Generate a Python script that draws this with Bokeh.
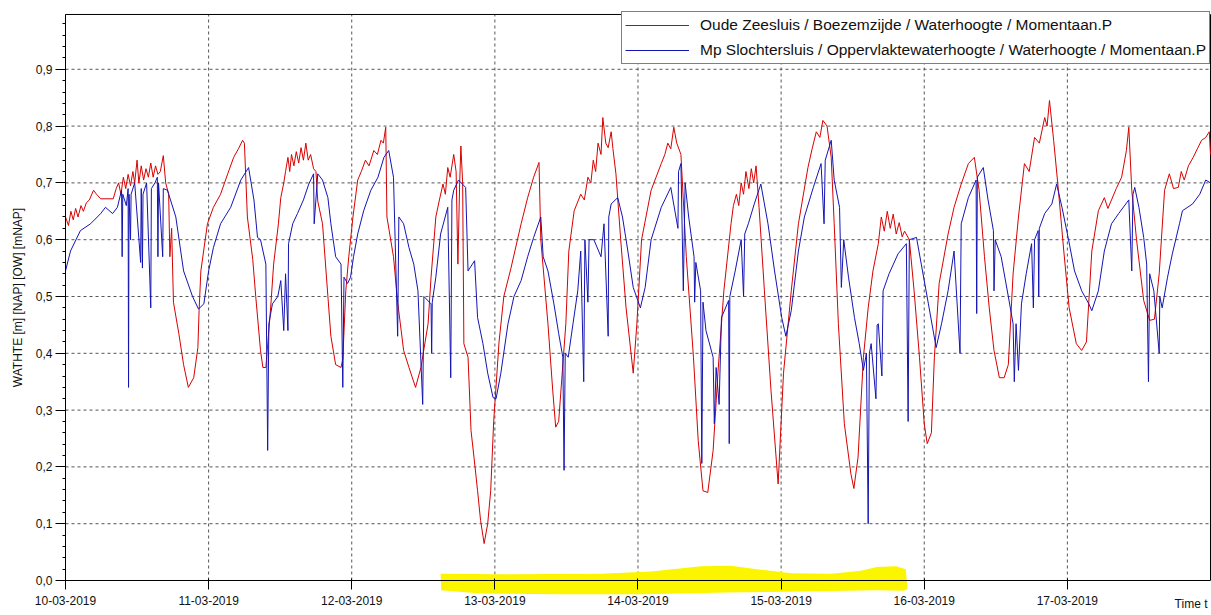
from bokeh.plotting import figure
from bokeh.models import (FixedTicker, CustomJSTickFormatter, Legend, LegendItem,
                          Label, PolyAnnotation)
from bokeh.embed import file_html
from bokeh.resources import INLINE

# ---------------- data ----------------
day_hours = [0, 24, 48, 72, 96, 120, 144, 168]
day_labels = ["10-03-2019", "11-03-2019", "12-03-2019", "13-03-2019",
              "14-03-2019", "15-03-2019", "16-03-2019", "17-03-2019"]
y_ticks = [0.0, 0.1, 0.2, 0.3, 0.4, 0.5, 0.6, 0.7, 0.8, 0.9]
x_end = 192          # 18-03-2019 00:00
y_top = 0.9965

red_name = "Oude Zeesluis / Boezemzijde / Waterhoogte / Momentaan.P"
blue_name = "Mp Slochtersluis / Oppervlaktewaterhoogte / Waterhoogte / Momentaan.P"

# hours since 10-03-2019 00:00, water level [m NAP]
red_h = [0.0, 0.5, 0.9, 1.3, 1.7, 2.1, 2.6, 3.0, 3.5, 4.0, 4.7, 5.2, 5.9, 8.0, 8.5, 8.9,
         9.3, 9.7, 10.1, 10.5, 10.9, 11.3, 11.6, 12.0, 12.3, 12.7, 13.1, 13.5, 13.9, 14.3,
         14.7, 15.1, 15.5, 15.9, 16.4, 16.8, 17.3, 17.5, 17.8, 18.1, 19.0, 19.8, 20.6,
         21.5, 22.2, 22.4, 22.7, 23.8, 24.8, 26.0, 27.2, 28.2, 29.0, 29.7, 30.0, 30.5,
         31.4, 31.9, 32.7, 33.1, 33.6, 34.4, 34.9, 35.7, 36.1, 36.6, 36.9, 37.3, 37.6,
         37.9, 38.3, 38.7, 39.1, 39.5, 39.9, 40.3, 40.7, 41.1, 41.6, 42.0, 42.3, 43.1,
         44.0, 44.5, 45.3, 46.2, 46.5, 47.0, 47.5, 48.2, 49.0, 49.6, 50.3, 50.9, 51.7,
         52.3, 52.9, 53.3, 53.7, 53.9, 55.0, 55.7, 56.7, 57.6, 58.7, 59.6, 60.8, 61.3,
         62.1, 62.7, 63.3, 63.7, 64.1, 64.5, 65.1, 65.5, 65.8, 66.1, 66.3, 66.6, 66.8,
         67.5, 68.0, 68.5, 69.1, 69.6, 70.2, 70.8, 71.3, 71.8, 72.7, 73.5, 74.7, 76.4,
         77.5, 78.5, 79.4, 79.7, 80.9, 81.7, 82.2, 82.7, 83.9, 84.4, 85.3, 86.4, 87.0,
         87.6, 88.1, 88.5, 88.9, 89.3, 89.8, 90.1, 90.6, 91.0, 91.5, 91.8, 92.3, 93.1,
         94.0, 95.2, 95.8, 96.6, 98.2, 99.9, 100.5, 101.0, 101.5, 102.0, 102.5, 103.2,
         104.1, 105.3, 106.1, 106.9, 107.7, 108.6, 109.4, 110.4, 111.6, 112.0, 112.5,
         112.9, 113.3, 113.7, 114.1, 114.6, 115.0, 115.4, 115.8, 116.3, 117.2, 118.3,
         119.5, 120.4, 121.7, 122.9, 124.5, 125.2, 125.9, 126.5, 127.0, 127.7, 128.4,
         128.9, 129.6, 130.6, 131.7, 132.2, 132.9, 133.8, 134.6, 135.4, 136.3, 136.8,
         137.3, 137.8, 138.3, 138.8, 139.3, 139.8, 140.3, 140.7, 141.5, 142.3, 143.2,
         144.0, 144.5, 145.2, 145.7, 146.5, 148.0, 149.0, 150.2, 151.4, 152.4, 153.2,
         154.1, 154.9, 155.7, 156.6, 157.4, 158.1, 158.9, 159.8, 160.8, 161.6, 162.5,
         163.3, 164.2, 164.6, 165.0, 165.7, 166.5, 167.4, 168.3, 169.5, 170.4, 171.2,
         172.1, 173.2, 174.2, 174.8, 175.4, 176.2, 177.1, 177.9, 178.3, 178.8, 179.6,
         180.8, 181.8, 182.6, 183.4, 184.3, 185.1, 185.8, 186.6, 187.1, 187.6, 188.3,
         189.1, 189.8, 190.5, 191.2, 191.8, 192.0]
red_v = [0.64, 0.625, 0.65, 0.635, 0.655, 0.64, 0.66, 0.65, 0.665, 0.67, 0.687, 0.68, 0.672,
         0.672, 0.69, 0.70, 0.68, 0.71, 0.69, 0.715, 0.695, 0.72, 0.70, 0.74, 0.70, 0.73,
         0.705, 0.725, 0.71, 0.735, 0.71, 0.73, 0.715, 0.72, 0.748, 0.70, 0.68, 0.57, 0.62,
         0.49, 0.435, 0.38, 0.34, 0.357, 0.41, 0.475, 0.545, 0.628, 0.657, 0.68, 0.716,
         0.745, 0.76, 0.775, 0.77, 0.64, 0.565, 0.50, 0.405, 0.375, 0.375, 0.48, 0.557,
         0.628, 0.674, 0.70, 0.72, 0.745, 0.72, 0.75, 0.73, 0.755, 0.735, 0.762, 0.74,
         0.77, 0.74, 0.75, 0.725, 0.72, 0.668, 0.628, 0.50, 0.43, 0.38, 0.375, 0.39, 0.51,
         0.57, 0.64, 0.705, 0.72, 0.74, 0.73, 0.757, 0.75, 0.775, 0.77, 0.798, 0.64, 0.57,
         0.49, 0.405, 0.375, 0.34, 0.375, 0.452, 0.534, 0.64, 0.67, 0.698, 0.68, 0.727,
         0.71, 0.75, 0.72, 0.557, 0.70, 0.765, 0.70, 0.417, 0.393, 0.264, 0.217, 0.158,
         0.106, 0.065, 0.10, 0.158, 0.28, 0.42, 0.50, 0.55, 0.628, 0.674, 0.71, 0.736,
         0.60, 0.452, 0.335, 0.27, 0.28, 0.452, 0.58, 0.651, 0.68, 0.67, 0.71, 0.70, 0.74,
         0.72, 0.77, 0.75, 0.815, 0.77, 0.762, 0.79, 0.76, 0.716, 0.60, 0.48, 0.365, 0.45,
         0.60, 0.687, 0.734, 0.75, 0.77, 0.76, 0.798, 0.77, 0.75, 0.57, 0.393, 0.246,
         0.158, 0.155, 0.229, 0.365, 0.51, 0.628, 0.66, 0.68, 0.66, 0.70, 0.68, 0.72,
         0.69, 0.725, 0.70, 0.73, 0.657, 0.51, 0.335, 0.17, 0.365, 0.51, 0.628, 0.727,
         0.76, 0.79, 0.78, 0.81, 0.80, 0.745, 0.628, 0.452, 0.276, 0.188, 0.162, 0.217,
         0.393, 0.48, 0.545, 0.593, 0.64, 0.615, 0.65, 0.62, 0.645, 0.61, 0.63, 0.605,
         0.615, 0.60, 0.51, 0.393, 0.276, 0.241, 0.26, 0.393, 0.523, 0.61, 0.657, 0.698,
         0.734, 0.745, 0.687, 0.57, 0.48, 0.405, 0.357, 0.357, 0.38, 0.54, 0.64, 0.734,
         0.72, 0.78, 0.77, 0.815, 0.80, 0.845, 0.775, 0.687, 0.58, 0.48, 0.417, 0.405,
         0.42, 0.58, 0.651, 0.674, 0.655, 0.67, 0.69, 0.71, 0.757, 0.798, 0.687, 0.60,
         0.493, 0.458, 0.46, 0.54, 0.687, 0.716, 0.69, 0.692, 0.72, 0.705, 0.73, 0.745,
         0.76, 0.775, 0.78, 0.79, 0.75]

blue_h = [0.0, 0.84, 2.5, 4.2, 5.9, 6.7, 7.9, 8.7, 9.4, 9.5, 9.6, 10.2, 10.5, 10.57, 10.65,
          10.9, 11.0, 11.6, 12.6, 12.7, 12.9, 13.0, 13.6, 14.3, 14.4, 15.0, 15.4, 15.5,
          15.6, 16.3, 16.4, 17.1, 18.5, 19.8, 21.3, 22.3, 23.2, 24.0, 24.8, 26.0, 27.7,
          29.4, 30.7, 31.6, 32.2, 32.7, 33.6, 33.9, 34.1, 34.7, 35.6, 36.1, 36.6, 36.9,
          37.3, 37.4, 38.1, 38.9, 39.9, 40.8, 41.6, 41.7, 42.3, 43.1, 44.0, 44.5, 45.3,
          46.2, 46.5, 46.7, 47.3, 47.8, 48.3, 49.0, 50.0, 51.2, 52.4, 53.4, 54.2, 55.0,
          55.7, 55.9, 56.7, 57.6, 58.4, 59.1, 59.9, 60.1, 61.3, 61.4, 61.5, 62.1, 62.9,
          64.1, 64.6, 64.8, 65.1, 65.9, 67.1, 67.5, 68.6, 69.1, 70.0, 70.8, 71.7, 72.2,
          73.0, 74.2, 75.2, 76.4, 77.5, 78.5, 79.7, 80.1, 80.9, 81.9, 82.7, 83.4, 83.6,
          83.8, 84.3, 85.1, 85.9, 86.4, 86.9, 87.1, 87.6, 87.8, 88.6, 89.8, 90.3, 91.0,
          91.1, 91.5, 92.6, 93.4, 94.3, 95.2, 96.4, 97.2, 98.2, 99.9, 101.5, 102.7, 102.8,
          103.2, 103.6, 103.9, 104.5, 105.4, 105.5, 105.7, 106.5, 106.7, 106.9, 107.4,
          108.6, 108.8, 109.1, 109.6, 110.0, 111.2, 111.3, 111.4, 112.3, 113.3, 113.7,
          113.9, 114.5, 115.5, 116.6, 117.8, 118.9, 120.1, 120.8, 121.7, 122.9, 123.9,
          125.4, 126.7, 127.2, 127.4, 128.4, 128.9, 129.8, 130.1, 130.5, 131.3, 132.3,
          133.1, 133.8, 134.3, 134.6, 134.8, 135.1, 135.9, 136.1, 136.3, 136.9, 137.1,
          138.1, 139.6, 141.0, 141.3, 141.5, 142.7, 143.5, 144.7, 146.0, 146.9, 148.0,
          149.0, 150.0, 150.2, 151.4, 152.7, 152.8, 152.9, 153.9, 154.7, 155.6, 155.7,
          155.9, 156.9, 158.1, 158.9, 159.1, 159.4, 159.8, 160.3, 161.1, 162.0, 162.3,
          162.5, 163.1, 163.2, 163.3, 164.2, 165.4, 166.2, 167.1, 168.2, 169.2, 170.4,
          171.6, 172.1, 173.2, 174.2, 175.4, 176.6, 178.3, 178.8, 179.0, 179.3, 180.0,
          180.8, 181.3, 181.6, 181.8, 182.5, 183.4, 183.5, 183.9, 184.8, 185.6, 186.8,
          187.3, 189.0, 190.2, 191.2, 192.0]
blue_v = [0.545, 0.58, 0.616, 0.628, 0.646, 0.657, 0.646, 0.657, 0.687, 0.57, 0.68, 0.66,
          0.69, 0.34, 0.68, 0.60, 0.68, 0.70, 0.56, 0.69, 0.55, 0.68, 0.70, 0.48, 0.69,
          0.70, 0.71, 0.57, 0.70, 0.57, 0.69, 0.687, 0.64, 0.545, 0.50, 0.478, 0.487,
          0.545, 0.586, 0.628, 0.657, 0.705, 0.727, 0.67, 0.604, 0.60, 0.557, 0.229, 0.452,
          0.487, 0.50, 0.528, 0.44, 0.54, 0.44, 0.593, 0.628, 0.646, 0.67, 0.698, 0.716,
          0.628, 0.716, 0.705, 0.674, 0.628, 0.57, 0.557, 0.34, 0.534, 0.523, 0.534, 0.57,
          0.61, 0.651, 0.687, 0.71, 0.745, 0.757, 0.71, 0.43, 0.64, 0.628, 0.586, 0.557,
          0.51, 0.31, 0.50, 0.487, 0.40, 0.49, 0.534, 0.61, 0.657, 0.357, 0.67, 0.687,
          0.705, 0.692, 0.545, 0.563, 0.463, 0.417, 0.365, 0.322, 0.32, 0.365, 0.452, 0.50,
          0.528, 0.57, 0.604, 0.64, 0.57, 0.545, 0.487, 0.435, 0.393, 0.194, 0.40, 0.393,
          0.452, 0.51, 0.58, 0.35, 0.60, 0.49, 0.60, 0.60, 0.57, 0.628, 0.43, 0.64, 0.663,
          0.674, 0.64, 0.58, 0.516, 0.48, 0.516, 0.60, 0.657, 0.692, 0.62, 0.72, 0.734,
          0.51, 0.70, 0.64, 0.57, 0.49, 0.56, 0.51, 0.206, 0.49, 0.44, 0.393, 0.276, 0.375,
          0.31, 0.463, 0.493, 0.241, 0.50, 0.545, 0.60, 0.50, 0.61, 0.628, 0.663, 0.698,
          0.628, 0.545, 0.463, 0.43, 0.475, 0.58, 0.64, 0.692, 0.734, 0.628, 0.74, 0.775,
          0.705, 0.657, 0.516, 0.60, 0.534, 0.463, 0.417, 0.37, 0.40, 0.10, 0.40, 0.417,
          0.32, 0.45, 0.452, 0.36, 0.51, 0.54, 0.575, 0.593, 0.28, 0.60, 0.604, 0.557,
          0.487, 0.41, 0.452, 0.51, 0.58, 0.40, 0.628, 0.674, 0.705, 0.47, 0.71, 0.727,
          0.67, 0.616, 0.51, 0.60, 0.57, 0.50, 0.452, 0.35, 0.452, 0.37, 0.487, 0.54,
          0.593, 0.48, 0.60, 0.616, 0.50, 0.62, 0.646, 0.663, 0.698, 0.657, 0.60, 0.545,
          0.51, 0.487, 0.475, 0.51, 0.58, 0.628, 0.646, 0.67, 0.545, 0.68, 0.692, 0.657,
          0.604, 0.557, 0.35, 0.54, 0.51, 0.40, 0.50, 0.48, 0.534, 0.575, 0.628, 0.651,
          0.663, 0.68, 0.705, 0.70]

# ---------------- figure ----------------
FONT = "Liberation Sans"
p = figure(width=1211, height=615, output_backend="svg", toolbar_location=None,
           title=None, x_range=(-10.9, 192.17), y_range=(-0.0616, 1.0211),
           min_border_left=0, min_border_right=0, min_border_top=0, min_border_bottom=0)
p.background_fill_color = "white"
p.border_fill_color = "white"
p.outline_line_color = None
p.grid.visible = False

# highlighter scribble across the time axis
p.add_layout(PolyAnnotation(
    xs=[62.9, 73.0, 89.8, 98.2, 106.6, 111.6, 116.6, 121.7, 128.4, 133.4, 136.0, 139.3, 140.9,
        141.2, 140.6, 136.0, 121.0, 111.0, 96.6, 83.0, 69.6, 63.0],
    ys=[0.012, 0.011, 0.012, 0.016, 0.025, 0.026, 0.019, 0.013, 0.012, 0.017, 0.024, 0.025, 0.02,
        -0.015, -0.018, -0.017, -0.02, -0.021, -0.024, -0.024, -0.023, -0.017],
    fill_color="#fbf500", fill_alpha=1, line_alpha=0, level="underlay"))

# dashed grid, limited to the plotting box
p.segment(x0=day_hours, y0=[0] * len(day_hours), x1=day_hours, y1=[y_top] * len(day_hours),
          line_color="#555555", line_dash="3 3", line_width=1, level="underlay")
p.segment(x0=[0] * len(y_ticks), y0=y_ticks, x1=[x_end] * len(y_ticks), y1=y_ticks,
          line_color="#555555", line_dash="3 3", line_width=1, level="underlay")
# box: top and right edges
p.line([0, x_end, x_end], [y_top, y_top, 0], line_color="black", line_width=1)

r_red = p.line(red_h, red_v, line_color="#d80000", line_width=1)
r_blue = p.line(blue_h, blue_v, line_color="#1414b4", line_width=1)

# axes (placed at the data origin)
xa = p.xaxis[0]
xa.fixed_location = 0
xa.bounds = (0, x_end)
xa.ticker = FixedTicker(ticks=day_hours, minor_ticks=[])
xa.major_label_overrides = {h: l for h, l in zip(day_hours, day_labels)}
ya = p.yaxis[0]
ya.fixed_location = 0
ya.bounds = (0, y_top)
ya.ticker = FixedTicker(ticks=y_ticks, minor_ticks=[round(i * 0.02, 2) for i in range(50)])
ya.formatter = CustomJSTickFormatter(code="return tick.toFixed(1).replace('.', ',');")
ya.axis_label = "WATHTE [m] [NAP] [OW] [mNAP]"
ya.axis_label_text_font = FONT
ya.axis_label_text_font_size = "12px"
ya.axis_label_text_font_style = "normal"
ya.axis_label_text_color = "#111111"
ya.axis_label_standoff = 8
for ax in (xa, ya):
    ax.axis_line_color = "black"
    ax.major_tick_line_color = "black"
    ax.minor_tick_line_color = "black"
    ax.major_label_text_font = FONT
    ax.major_label_text_font_size = "12px"
    ax.major_label_text_color = "#111111"
ya.major_tick_out = 10
ya.major_tick_in = 0
ya.minor_tick_out = 3
ya.minor_tick_in = 0
ya.major_label_standoff = 3
xa.major_tick_out = 9
xa.major_tick_in = 2
xa.major_label_standoff = 6

# "Time t" label at the right end of the time axis
p.add_layout(Label(x=x_end, y=0, text="Time t", text_align="right", text_baseline="top",
                   x_offset=-3, y_offset=-16, text_font=FONT, text_font_size="12px",
                   text_color="#111111"))

legend = Legend(items=[LegendItem(label=red_name, renderers=[r_red]),
                       LegendItem(label=blue_name, renderers=[r_blue])],
                location=(621, 551), padding=3, spacing=5,
                glyph_width=64, glyph_height=20, label_height=20, label_standoff=11,
                label_text_font=FONT, label_text_font_size="15.5px",
                label_text_color="#111111",
                border_line_color="black", border_line_width=1,
                background_fill_color="white", background_fill_alpha=1)
p.add_layout(legend)

open("out.html", "w").write(file_html(p, INLINE))
